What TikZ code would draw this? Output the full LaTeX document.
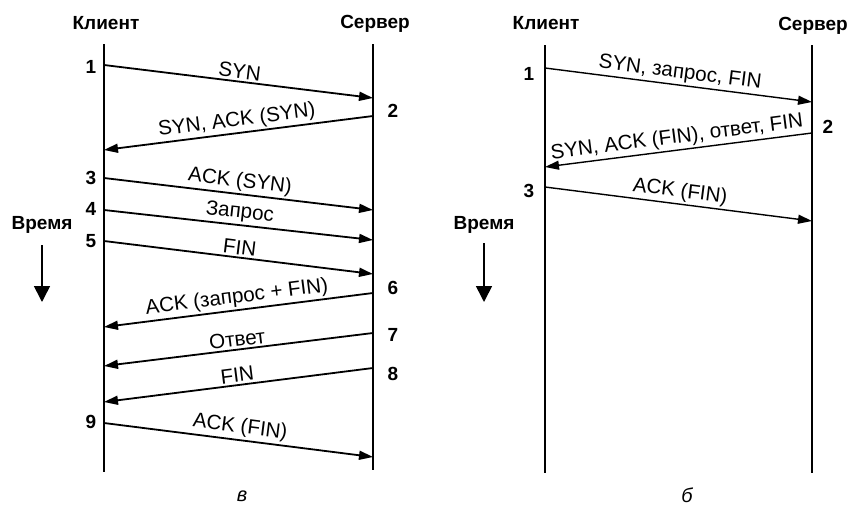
\documentclass[tikz,border=0pt]{standalone}
\usepackage{fontspec}
\setmainfont{Liberation Sans}
\usetikzlibrary{arrows.meta}
\tikzset{
  life/.style     = {line width=1.1pt},
  lifethin/.style = {line width=0.7pt},
  msg/.style      = {-{Triangle[length=7pt,width=4.5pt]}, line width=0.9pt},
  msgthin/.style  = {-{Triangle[length=7pt,width=4.5pt]}, line width=0.7pt},
  msglab/.style   = {midway, above, sloped, inner sep=1pt,
                     font=\fontsize{10.3}{12}\selectfont},
  hdr/.style      = {inner sep=0pt, font=\fontsize{9.5}{11}\selectfont\bfseries},
  stepnum/.style  = {inner sep=0pt, font=\fontsize{9.5}{11}\selectfont\bfseries},
  timearr/.style  = {-{Triangle[length=8pt,width=8pt]}, line width=0.8pt},
  sublab/.style   = {inner sep=0pt, font=\fontsize{10}{12}\selectfont\itshape},
}
\newcommand{\lifeline}[6]{%
  \node[hdr] (#1hdr) at #3 {#2};
  \coordinate (#1top) at #4;
  \coordinate (#1bot) at #5;
  \draw[#6] (#1top) -- (#1bot);
}
\newcommand{\tcpmsg}[5]{%
  \coordinate (#1s) at #2;
  \coordinate (#1e) at #3;
  \draw[#5] (#1s) -- node[msglab] (#1lab) {#4} (#1e);
}

\begin{document}
\begin{tikzpicture}[x=0.5pt, y=-0.5pt]
  \useasboundingbox (0,0) rectangle (850,509);

  % panel a
  \lifeline{Lc}{Клиент}{(106,23)}{(104,44)}{(104,472)}{life}
  \lifeline{Ls}{Сервер}{(375,24)}{(373,44)}{(373,470)}{life}

  \tcpmsg{La}{(104,65)} {(373,98)} {SYN}{msg}
  \tcpmsg{Lb}{(373,116)}{(104,150)}{SYN, ACK (SYN)}{msg}
  \tcpmsg{Lc}{(104,178)}{(373,210)}{ACK (SYN)}{msg}
  \tcpmsg{Ld}{(104,210)}{(373,240)}{Запрос}{msg}
  \tcpmsg{Le}{(104,241)}{(373,274)}{FIN}{msg}
  \tcpmsg{Lf}{(373,293)}{(104,327)}{ACK (запрос + FIN)}{msg}
  \tcpmsg{Lg}{(373,333)}{(104,366)}{Ответ}{msg}
  \tcpmsg{Lh}{(373,368)}{(104,402)}{FIN}{msg}
  \tcpmsg{Li}{(104,423)}{(373,457)}{ACK (FIN)}{msg}

  \foreach \n/\x/\y in {1/91/67, 2/393/111, 3/91/178, 4/91/209, 5/91/241,
                        6/393/288, 7/393/335, 8/393/374, 9/91/422}
    \node[stepnum] (Lnum\n) at (\x,\y) {\n};

  \node[hdr] (Ltime) at (42,225) {Время};
  \coordinate (Ltimetop) at (42,245);
  \coordinate (Ltimebot) at (42,302);
  \draw[timearr] (Ltimetop) -- (Ltimebot);

  \node[sublab] (Lsub) at (242,496) {в};

  % panel b
  \lifeline{Rc}{Клиент}{(546,23)}{(545,45)}{(545,473)}{lifethin}
  \lifeline{Rs}{Сервер}{(813,26)}{(812,45)}{(812,473)}{lifethin}

  \tcpmsg{Ra}{(545,68)} {(812,102)}{SYN, запрос, FIN}{msgthin}
  \tcpmsg{Rb}{(812,133)}{(545,167)}{SYN, ACK (FIN), ответ, FIN}{msgthin}
  \tcpmsg{Rc}{(545,187)}{(812,221)}{ACK (FIN)}{msgthin}

  \foreach \n/\x/\y in {1/529/74, 2/828/127, 3/529/191}
    \node[stepnum] (Rnum\n) at (\x,\y) {\n};

  \node[hdr] (Rtime) at (484,225) {Время};
  \coordinate (Rtimetop) at (484,243);
  \coordinate (Rtimebot) at (484,302);
  \draw[timearr] (Rtimetop) -- (Rtimebot);

  \node[sublab] (Rsub) at (687,495) {б};
\end{tikzpicture}
\end{document}
